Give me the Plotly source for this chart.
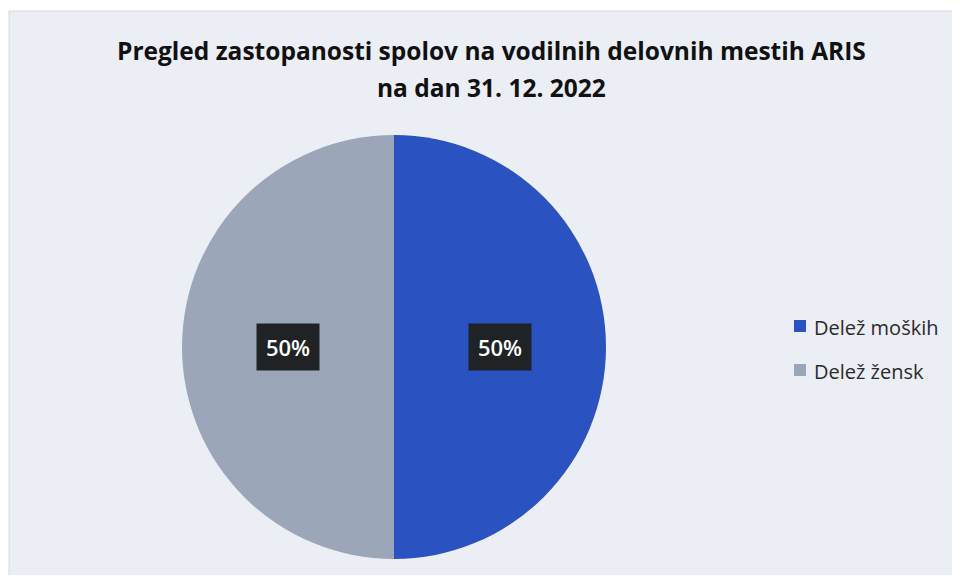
import math
import plotly.graph_objects as go

labels = ["Delež moških", "Delež žensk"]
values = [50, 50]
colors = ["#2a52c0", "#9ba6b8"]
title_lines = ["Pregled zastopanosti spolov na vodilnih delovnih mestih ARIS", "na dan 31. 12. 2022"]

# page body has an 8px margin: work in reference pixels and shift
OFF = 8
W, H = 960 - 2 * OFF, 583 - 2 * OFF


def px(x):
    return (x - OFF) / W


def py(y):
    return 1 - (y - OFF) / H


cx, cy, r = 394, 347, 212

fig = go.Figure()
fig.add_trace(go.Pie(
    labels=labels, values=values, sort=False, direction="clockwise", rotation=0,
    marker=dict(colors=colors, line=dict(width=0)),
    textinfo="none", hoverinfo="label+percent", showlegend=False,
    domain=dict(x=[px(cx - r), px(cx + r)], y=[py(cy + r), py(cy - r)]),
))

# percentage labels with dark boxes at slice midpoints
total = sum(values)
start = 90.0
for v in values:
    span = 360.0 * v / total
    mid = math.radians(start - span / 2)
    start -= span
    lx = cx + 0.5 * r * math.cos(mid)
    ly = cy - 0.5 * r * math.sin(mid)
    fig.add_annotation(x=px(lx), y=py(ly), xref="paper", yref="paper",
                       xanchor="center", yanchor="middle",
                       text=f"{round(100 * v / total)}%", showarrow=False,
                       font=dict(family="Open Sans", size=22, color="white", weight=600),
                       bgcolor="#1f2326", borderpad=8, width=46)

# chart area
fig.add_shape(type="rect", xref="paper", yref="paper", x0=px(9), x1=px(975), y0=py(600), y1=py(11),
              fillcolor="#eceef5", line=dict(color="#d6d8de", width=1), layer="below")

# title
for i, t in enumerate(title_lines):
    fig.add_annotation(x=px(491), y=py(50 + 37 * i), xref="paper", yref="paper", showarrow=False,
                       xanchor="center", yanchor="middle",
                       text="<b>" + t + "</b>",
                       font=dict(family="Open Sans", size=24.5, color="#111111"))

# legend
for i, (lab, col) in enumerate(zip(labels, colors)):
    yy = 326 + 44 * i
    fig.add_shape(type="rect", xref="paper", yref="paper",
                  x0=px(794), x1=px(806), y0=py(yy + 6), y1=py(yy - 6),
                  fillcolor=col, line=dict(width=0))
    fig.add_annotation(x=px(812), y=py(yy + 1), xref="paper", yref="paper", showarrow=False,
                       xanchor="left", yanchor="middle", text=lab,
                       font=dict(family="Open Sans", size=20, color="#2a2a2a"))

fig.update_layout(
    width=W, height=H, margin=dict(l=0, r=0, t=0, b=0),
    paper_bgcolor="white", plot_bgcolor="white", showlegend=False,
)

fig.write_html("out.html")
